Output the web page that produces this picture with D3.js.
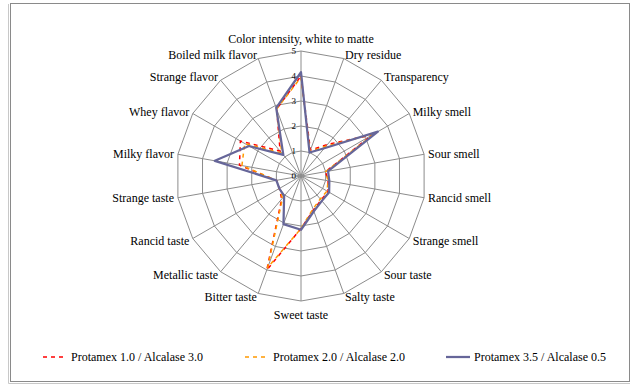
<!DOCTYPE html>
<html>
<head>
<meta charset="utf-8">
<script src="https://cdn.jsdelivr.net/npm/d3@7"></script>
<style>
  body { margin: 0; background: #fff; }
  svg { display: block; }
  svg text { font-family: "Liberation Serif", "DejaVu Serif", "Times New Roman", serif; }
</style>
</head>
<body>
<div id="chart"></div>
<script>
// categories clockwise from the top
const categories = [
  "Color intensity, white to matte", "Dry residue", "Transparency", "Milky smell",
  "Sour smell", "Rancid smell", "Strange smell", "Sour taste", "Salty taste",
  "Sweet taste", "Bitter taste", "Metallic taste", "Rancid taste", "Strange taste",
  "Milky flavor", "Whey flavor", "Strange flavor", "Boiled milk flavor"
];
const seriesNames = ["Protamex 1.0 / Alcalase 3.0", "Protamex 2.0 / Alcalase 2.0", "Protamex 3.5 / Alcalase 0.5"];
const protamex10 = [4.0, 1.1, 1.65, 3.3, 1.0, 1.1, 1.25, 1.25, 1.45, 2.1, 4.0, 1.2, 1.0, 1.0, 2.5, 2.8, 1.3, 2.85];
const protamex20 = [3.95, 1.05, 1.55, 3.4, 1.0, 1.1, 1.2, 1.2, 1.4, 2.1, 3.9, 1.15, 1.0, 1.0, 2.4, 2.6, 1.2, 2.85];
const protamex35 = [4.15, 1.0, 1.45, 3.55, 1.1, 1.15, 1.3, 1.3, 1.5, 2.15, 2.05, 1.05, 1.0, 1.0, 3.5, 2.4, 1.1, 2.9];
const tickValues = [0, 1, 2, 3, 4, 5];

const width = 640, height = 388;
const cx = 301, cy = 176, radius = 125;
const serif = '"Liberation Serif", "DejaVu Serif", "Times New Roman", serif';

const svg = d3.select("#chart").append("svg")
  .attr("width", width)
  .attr("height", height);

// chart frame
svg.append("rect")
  .attr("x", 10.5).attr("y", 3.5)
  .attr("width", 619).attr("height", 378)
  .attr("fill", "#fff")
  .attr("stroke", "#8a8a8a")
  .attr("stroke-width", 1);
svg.append("path")
  .attr("d", "M8.5,4 V383.5 H630")
  .attr("fill", "none")
  .attr("stroke", "#c8c8c8");

const r = d3.scaleLinear().domain([0, 5]).range([0, radius]);
const angle = d3.scaleLinear().domain([0, categories.length]).range([0, 2 * Math.PI]);

const g = svg.append("g").attr("transform", `translate(${cx},${cy})`);

// grid rings (polygons)
const ringLine = d3.lineRadial()
  .angle((d, i) => angle(i))
  .radius(d => r(d))
  .curve(d3.curveLinearClosed);

g.selectAll(".ring")
  .data(tickValues.slice(1))
  .enter().append("path")
  .attr("class", "ring")
  .attr("d", t => ringLine(categories.map(() => t)))
  .attr("fill", "none")
  .attr("stroke", "#8c8c8c")
  .attr("stroke-width", 1);

// spokes
g.selectAll(".spoke")
  .data(categories)
  .enter().append("line")
  .attr("class", "spoke")
  .attr("x1", 0).attr("y1", 0)
  .attr("x2", (d, i) => r(5) * Math.sin(angle(i)))
  .attr("y2", (d, i) => -r(5) * Math.cos(angle(i)))
  .attr("stroke", "#8c8c8c")
  .attr("stroke-width", 1);

// value labels along the vertical axis
g.selectAll(".tick")
  .data(tickValues)
  .enter().append("text")
  .attr("class", "tick")
  .attr("x", -5)
  .attr("y", d => -r(d) + 3)
  .attr("text-anchor", "end")
  .attr("font-family", serif)
  .style("font-size", "9px")
  .text(d => d);

// category labels
g.selectAll(".cat")
  .data(categories)
  .enter().append("text")
  .attr("class", "cat")
  .each(function(d, i) {
    const a = angle(i);
    const s = Math.sin(a), c = Math.cos(a);
    const px = (r(5) + 4) * s;
    const py = -(r(5) + 4) * c;
    let anchor = "middle", y = py + 4;
    if (s > 0.05) anchor = "start";
    else if (s < -0.05) anchor = "end";
    if (Math.abs(s) < 0.05) y = c > 0 ? py - 4 : py + 14;
    d3.select(this)
      .attr("x", px)
      .attr("y", y)
      .attr("text-anchor", anchor);
  })
  .attr("font-family", serif)
  .style("font-size", "12px")
  .text(d => d);

// series
const series = [
  {name: seriesNames[0], values: protamex10, color: "#ff0000", dash: "4,4", w: 1.5},
  {name: seriesNames[1], values: protamex20, color: "#ff9900", dash: "4,4", w: 1.5},
  {name: seriesNames[2], values: protamex35, color: "#666699", dash: null, w: 2.25}
];

const dataLine = d3.lineRadial()
  .angle((d, i) => angle(i))
  .radius(d => r(d))
  .curve(d3.curveLinearClosed);

g.selectAll(".series")
  .data(series)
  .enter().append("path")
  .attr("class", "series")
  .attr("d", d => dataLine(d.values))
  .attr("fill", "none")
  .attr("stroke", d => d.color)
  .attr("stroke-width", d => d.w)
  .attr("stroke-dasharray", d => d.dash)
  .attr("stroke-linejoin", "round");

// legend
const legendX = [43, 245, 446];
const legend = svg.selectAll(".legend")
  .data(series)
  .enter().append("g")
  .attr("class", "legend")
  .attr("transform", (d, i) => `translate(${legendX[i]},357)`);

legend.append("line")
  .attr("x1", 0).attr("x2", 24)
  .attr("y1", 0).attr("y2", 0)
  .attr("stroke", d => d.color)
  .attr("stroke-width", d => d.w)
  .attr("stroke-dasharray", d => d.dash);

legend.append("text")
  .attr("x", 28)
  .attr("y", 4)
  .attr("font-family", serif)
  .style("font-size", "12px")
  .text(d => d.name);
</script>
</body>
</html>
